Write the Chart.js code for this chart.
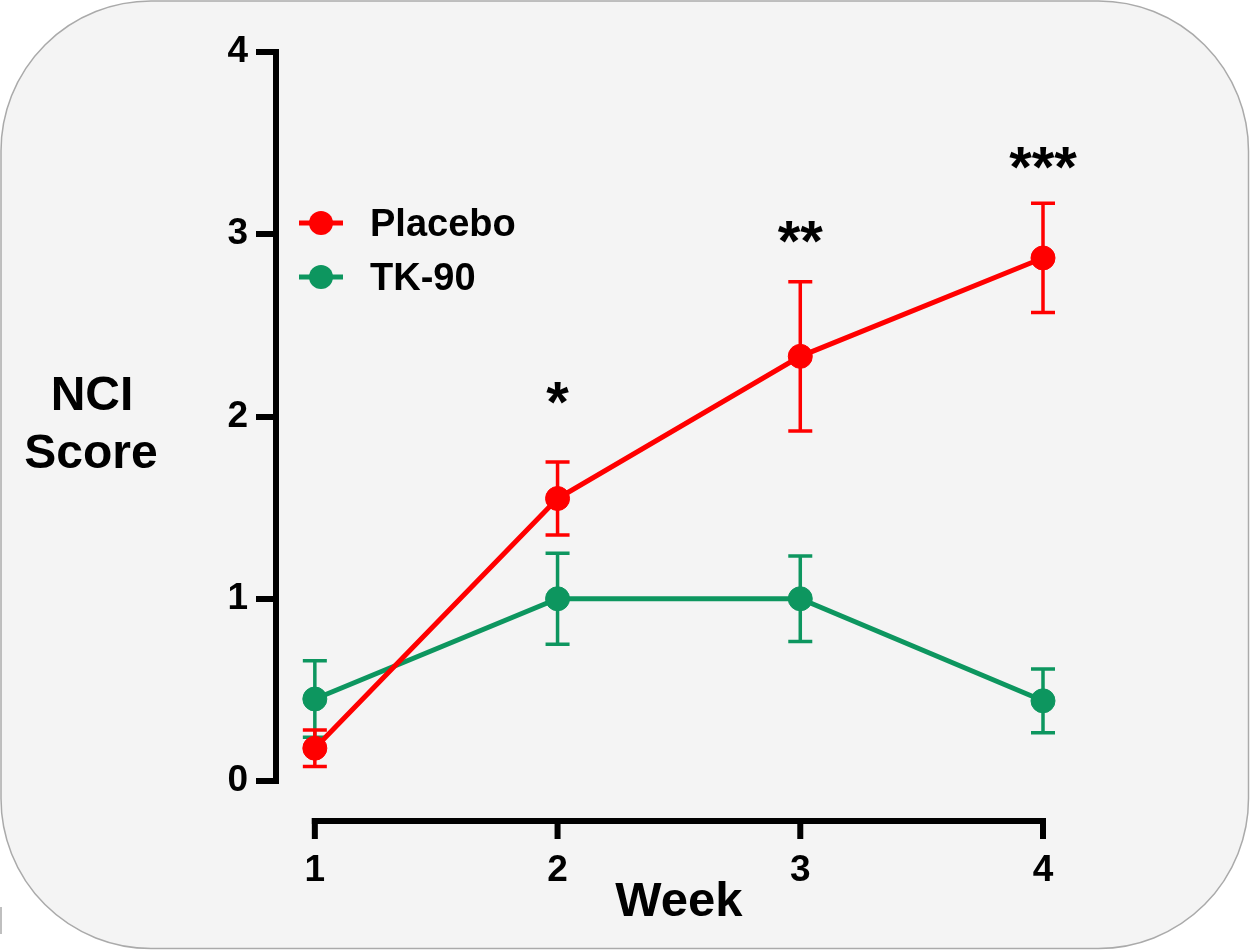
<!DOCTYPE html>
<html>
<head>
<meta charset="utf-8">
<title>NCI Score by week</title>
<script src="https://cdn.jsdelivr.net/npm/chart.js@4.4.1/dist/chart.umd.min.js"></script>
<style>
  html, body { margin: 0; padding: 0; background: #fff; }
  canvas { display: block; }
</style>
</head>
<body>
<canvas id="nciChart" width="1250" height="950"></canvas>
<script>
// values
const weeks = [1, 2, 3, 4];
const placeboMean = [0.18, 1.55, 2.33, 2.87];
const placeboErr = [0.10, 0.20, 0.41, 0.30];
const tkMean = [0.45, 1.0, 1.0, 0.44];
const tkErr = [0.21, 0.25, 0.235, 0.175];
const yTicks = [0, 1, 2, 3, 4];
const sigMarks = ['', '*', '**', '***'];
const sigLevel = [null, 2.13, 3.01, 3.42];

const RED = '#ff0000';
const GREEN = '#0d965f';
const FONT = '"Liberation Sans", Arial, Helvetica, sans-serif';

// rounded grey panel behind everything
const panelPlugin = {
  id: 'panel',
  beforeDraw(chart) {
    const ctx = chart.ctx;
    ctx.save();
    ctx.fillStyle = '#fff';
    ctx.fillRect(0, 0, chart.width, chart.height);
    ctx.beginPath();
    ctx.roundRect(1, 1, chart.width - 2.5, chart.height - 2.5, 150);
    ctx.fillStyle = '#f4f4f4';
    ctx.fill();
    ctx.strokeStyle = '#aaaaaa';
    ctx.lineWidth = 1.5;
    ctx.stroke();
    // little stray mark at the left edge
    ctx.beginPath();
    ctx.moveTo(1, 907);
    ctx.lineTo(1, 934);
    ctx.stroke();
    ctx.restore();
  }
};

// error bars, drawn just before each dataset so they sit under its line/points
const errorBarPlugin = {
  id: 'errorBars',
  beforeDatasetDraw(chart, args) {
    const ds = chart.data.datasets[args.index];
    if (!ds.errorBars) return;
    const yScale = chart.scales.y;
    const ctx = chart.ctx;
    ctx.save();
    ctx.strokeStyle = ds.borderColor;
    ctx.lineWidth = 3.5;
    args.meta.data.forEach((pt, i) => {
      const m = ds.data[i].y;
      const e = ds.errorBars[i];
      const top = yScale.getPixelForValue(m + e);
      const bot = yScale.getPixelForValue(m - e);
      ctx.beginPath();
      ctx.moveTo(pt.x, top);
      ctx.lineTo(pt.x, bot);
      ctx.moveTo(pt.x - 12, top);
      ctx.lineTo(pt.x + 12, top);
      ctx.moveTo(pt.x - 12, bot);
      ctx.lineTo(pt.x + 12, bot);
      ctx.stroke();
    });
    ctx.restore();
  }
};

// offset x axis line, asterisks, legend and axis titles
const decorPlugin = {
  id: 'decor',
  afterDraw(chart) {
    const ctx = chart.ctx;
    const x = chart.scales.x;
    const y = chart.scales.y;
    ctx.save();

    // x axis (detached from the y axis)
    const axisY = 821;
    const x0 = x.getPixelForValue(weeks[0]);
    const x1 = x.getPixelForValue(weeks[weeks.length - 1]);
    ctx.strokeStyle = '#000';
    ctx.lineWidth = 6;
    ctx.lineCap = 'butt';
    ctx.beginPath();
    ctx.moveTo(x0 - 3, axisY);
    ctx.lineTo(x1 + 3, axisY);
    ctx.stroke();
    weeks.forEach(w => {
      const px = x.getPixelForValue(w);
      ctx.beginPath();
      ctx.moveTo(px, axisY - 3);
      ctx.lineTo(px, 839);
      ctx.stroke();
    });

    // significance asterisks
    ctx.fillStyle = '#000';
    ctx.font = 'bold 58px ' + FONT;
    ctx.textAlign = 'center';
    ctx.textBaseline = 'alphabetic';
    weeks.forEach((w, i) => {
      if (!sigMarks[i]) return;
      const m = ctx.measureText(sigMarks[i]);
      const mid = (m.actualBoundingBoxAscent - m.actualBoundingBoxDescent) / 2;
      ctx.fillText(sigMarks[i], x.getPixelForValue(w), y.getPixelForValue(sigLevel[i]) + mid);
    });

    // legend
    ctx.font = 'bold 38px ' + FONT;
    ctx.textAlign = 'left';
    chart.data.datasets.forEach((ds, i) => {
      const cy = 223 + i * 54;
      ctx.strokeStyle = ds.borderColor;
      ctx.lineWidth = 5;
      ctx.beginPath();
      ctx.moveTo(299, cy);
      ctx.lineTo(343, cy);
      ctx.stroke();
      ctx.fillStyle = ds.borderColor;
      ctx.beginPath();
      ctx.arc(321, cy, 12, 0, Math.PI * 2);
      ctx.fill();
      ctx.fillStyle = '#000';
      ctx.fillText(ds.label, 370, cy + 13);
    });

    // axis titles
    ctx.font = 'bold 48px ' + FONT;
    ctx.textAlign = 'center';
    ctx.fillText('NCI', 92, 410);
    ctx.fillText('Score', 91, 468);
    ctx.font = 'bold 49px ' + FONT;
    ctx.fillText('Week', (x0 + x1) / 2, 916);

    ctx.restore();
  }
};

const tickFont = { family: FONT, size: 37, weight: 'bold' };

new Chart(document.getElementById('nciChart'), {
  type: 'line',
  data: {
    datasets: [
      {
        label: 'Placebo',
        data: weeks.map((w, i) => ({ x: w, y: placeboMean[i] })),
        errorBars: placeboErr,
        borderColor: RED,
        backgroundColor: RED,
        pointBackgroundColor: RED,
        pointBorderColor: RED,
        borderWidth: 5,
        pointRadius: 12,
        pointBorderWidth: 1,
        tension: 0,
        clip: false
      },
      {
        label: 'TK-90',
        data: weeks.map((w, i) => ({ x: w, y: tkMean[i] })),
        errorBars: tkErr,
        borderColor: GREEN,
        backgroundColor: GREEN,
        pointBackgroundColor: GREEN,
        pointBorderColor: GREEN,
        borderWidth: 5,
        pointRadius: 12,
        pointBorderWidth: 1,
        tension: 0,
        clip: false
      }
    ]
  },
  options: {
    responsive: false,
    animation: false,
    events: [],
    layout: { padding: { top: 52, right: 207, left: 0, bottom: 0 } },
    plugins: {
      legend: { display: false },
      tooltip: { enabled: false }
    },
    scales: {
      x: {
        type: 'linear',
        min: 0.84,
        max: 4,
        afterFit: s => { s.height = 169; },
        afterBuildTicks: s => { s.ticks = weeks.map(v => ({ value: v })); },
        grid: { display: false, drawTicks: false },
        border: { display: false },
        ticks: { padding: 68, color: '#000', font: tickFont, maxRotation: 0, autoSkip: false }
      },
      y: {
        min: 0,
        max: 4,
        afterFit: s => { s.width = 276; },
        afterBuildTicks: s => { s.ticks = yTicks.map(v => ({ value: v })); },
        grid: { drawOnChartArea: false, drawTicks: true, tickLength: 20, lineWidth: 6, color: '#000' },
        border: { display: true, width: 6, color: '#000' },
        ticks: { padding: 8, color: '#000', font: tickFont }
      }
    }
  },
  plugins: [panelPlugin, errorBarPlugin, decorPlugin]
});
</script>
</body>
</html>
